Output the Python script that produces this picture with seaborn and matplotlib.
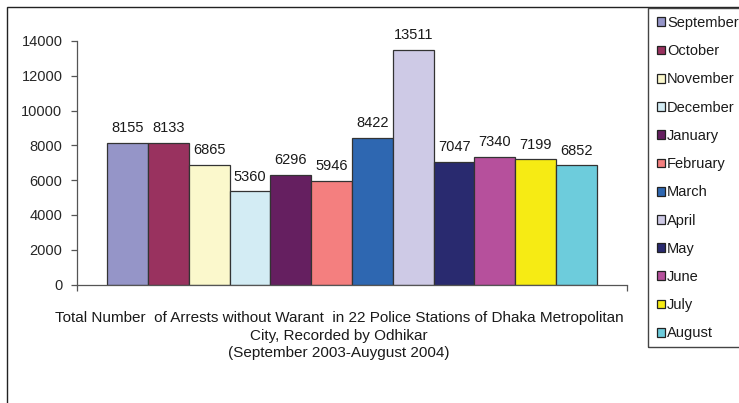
import matplotlib
matplotlib.use("Agg")
import matplotlib.pyplot as plt
import seaborn as sns
import pandas as pd
from matplotlib.patches import Rectangle

months = ["September", "October", "November", "December", "January", "February",
          "March", "April", "May", "June", "July", "August"]
arrests = [8155, 8133, 6865, 5360, 6296, 5946, 8422, 13511, 7047, 7340, 7199, 6852]
colors = ["#9595C8", "#99325F", "#FBF8CC", "#D3ECF4", "#651F60", "#F47F7F",
          "#2E67B1", "#CECAE6", "#292A6F", "#B6509C", "#F6EB14", "#6DCCDC"]
yticks = [0, 2000, 4000, 6000, 8000, 10000, 12000, 14000]
title_lines = ["Total Number  of Arrests without Warant  in 22 Police Stations of Dhaka Metropolitan",
               "City, Recorded by Odhikar",
               "(September 2003-Auygust 2004)"]

sns.set_style("white")
plt.rcParams["font.family"] = ["Liberation Sans", "DejaVu Sans"]
plt.rcParams["text.color"] = "#1a1a1a"

W, H = 739, 403
fig = plt.figure(figsize=(W / 100, H / 100), dpi=100)
ax = fig.add_axes([77 / W, (H - 284.5) / H, 550 / W, (284.5 - 41) / H])

df = pd.DataFrame({"month": months, "arrests": arrests})
sns.barplot(data=df, x="month", y="arrests", hue="month", palette=colors,
            hue_order=months, order=months, width=1.0, dodge=False, saturation=1,
            edgecolor="#333333", linewidth=0.9, ax=ax, legend=True)

for c in ax.containers:
    ax.bar_label(c, fmt="%d", padding=5.5, fontsize=10.5, color="#1a1a1a")

ax.set_ylim(0, 14000)
ax.set_xlim(-1.235, 12.235)
ax.set_yticks(yticks)
ax.set_yticklabels([str(v) for v in yticks], fontsize=10.5)
ax.set_xticks([-1.235, 12.235])
ax.set_xticklabels(["", ""])
ax.tick_params(axis="y", direction="out", length=4, width=0.9, color="#555555", pad=6.5, left=True)
ax.tick_params(axis="x", direction="out", length=4, width=0.9, color="#555555", bottom=True)
ax.set_xlabel("")
ax.set_ylabel("")
for s in ["top", "right"]:
    ax.spines[s].set_visible(False)
for s in ["left", "bottom"]:
    ax.spines[s].set_color("#555555")
    ax.spines[s].set_linewidth(0.9)

handles, labels = ax.get_legend_handles_labels()
ax.get_legend().remove()
for h in handles:
    h.set_edgecolor("#222222")
    h.set_linewidth(0.9)
fig.legend(handles, labels, loc="upper left", bbox_to_anchor=(657 / W, 1 - 16 / H),
           frameon=False, fontsize=10.5, handlelength=0.55, handleheight=0.55,
           handletextpad=0.15, labelspacing=0.975, borderaxespad=0, borderpad=0)

# outer chart border and legend box
fig.patches.append(Rectangle((7 / W, -0.1), 1.2, 1 - 7 / H + 0.1, transform=fig.transFigure,
                             fill=False, edgecolor="#222222", linewidth=1.0))
fig.patches.append(Rectangle((648 / W, 1 - 347 / H), 0.5, (347 - 8) / H, transform=fig.transFigure,
                             fill=False, edgecolor="#444444", linewidth=1.0))

fig.text(339 / W, 1 - 311 / H, "\n".join(title_lines), ha="center", va="top",
         fontsize=11, linespacing=1.32, color="#1a1a1a")

fig.savefig("out.png", dpi=100)
